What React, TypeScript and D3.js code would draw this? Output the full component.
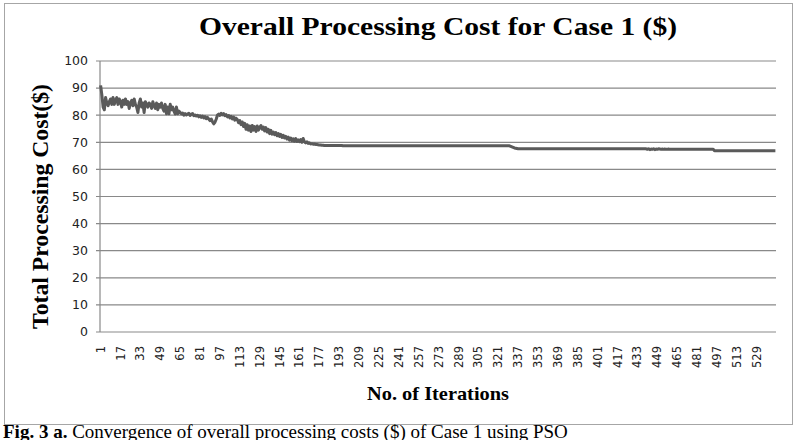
import React from 'react';
import * as d3 from 'd3';

// chart text
const TITLE = 'Overall Processing Cost for Case 1 ($)';
const Y_LABEL = 'Total Processing Cost($)';
const X_LABEL = 'No. of Iterations';
const CAPTION_BOLD = 'Fig. 3 a.';
const CAPTION_TEXT = ' Convergence of overall processing costs ($) of Case 1 using PSO';

// y ticks (cost in $)
const Y_TICKS = [0, 10, 20, 30, 40, 50, 60, 70, 80, 90, 100];

const COST_HEAD = [
  91, 87.5, 83, 82, 86.5, 84.5, 83.5, 85, 86, 84,
  86.5, 84, 85.5, 86.5, 84, 86, 85, 83, 85.5, 84,
  86, 84, 85, 82.5, 84.5, 85.5, 83.5, 86, 84, 83,
  81, 84.5, 86, 83, 84.5, 81, 85, 84, 83, 84.5,
  84, 82.5, 85, 83.5, 82.5, 84.5, 82, 84, 83, 84.5,
  82.5, 81.5, 84, 80.5, 83, 80.5, 84, 82, 83, 81.5,
  80.5, 83, 80.5, 81.5, 81, 80.5, 80.8, 80, 80.6, 80.1,
  80.4, 80.7, 79.9, 80.4, 80.6, 79.8, 80.1, 79.7, 80, 79.4,
  79.8, 79.2, 79.7, 79, 79.5, 78.7, 79.2, 78.6, 78, 78.6,
  77.6, 76.8, 77.4, 78.5, 80, 80.4, 79.9, 80.7, 80.1, 80.6,
  79.8, 80.2, 79.4, 79.9, 79, 79.6, 78.6, 79.3, 78.2, 78.9,
  78.4, 77.2, 78, 76.5, 77.5, 75.8, 77, 74.8, 76.5, 74.5,
  76, 74, 76.2, 74.5, 75.8, 74, 76, 74.5, 75.5, 76.2,
  74.8, 75.6, 74.2, 75.4, 73.8, 74.8, 73.2, 74.4, 73, 73.8,
  72.8, 73.6, 72.4, 73.2, 72.2, 72.9, 71.8, 72.6, 71.6, 72.2,
  71.2, 71.9, 70.8, 71.6, 70.6, 71.3, 70.4, 71.4, 70.3, 70.9,
  70.2, 71, 70, 71.4, 70.2, 69.8, 70.2, 69.6, 69.8, 69.4,
  69.5, 69.3, 69.4, 69.2, 69.2, 69.1, 69, 69, 68.9, 68.9,
];

// step down around iteration 331
const COST_STEP = [68.5, 68.3, 68.1, 67.9, 67.8, 67.7, 67.6, 67.6, 67.6, 67.6];

// small wobble around iteration 441
const COST_WOBBLE = [
  67.4, 67.6, 67.3, 67.5, 67.4, 67.6, 67.3, 67.5, 67.4, 67.6,
  67.5, 67.4, 67.5, 67.4, 67.5, 67.4, 67.4, 67.5, 67.4, 67.4,
];

// flat stretches as [value, how many iterations]
const FLAT_A: [number, number][] = [[68.8, 15], [68.7, 135]];
const FLAT_B: [number, number][] = [[67.6, 100]];
const FLAT_C: [number, number][] = [[67.4, 34], [66.9, 50]];

const runs = (r: [number, number][]) => r.flatMap(([v, n]) => Array(n).fill(v));

const COST = [
  ...COST_HEAD,
  ...runs(FLAT_A),
  ...COST_STEP,
  ...runs(FLAT_B),
  ...COST_WOBBLE,
  ...runs(FLAT_C),
];

const ITERATIONS = COST.map((_, i) => i + 1);
// excel shows every 16th category label
const X_TICKS = ITERATIONS.filter(i => (i - 1) % 16 === 0);

const W = 795, H = 440;
const plot = { left: 100, right: 776, top: 61, bottom: 332 };

const serif = "'Liberation Serif', 'Times New Roman', serif";
const sans = "'DejaVu Sans', Verdana, sans-serif";

export default function App() {
  const x = d3.scaleBand<number>().domain(ITERATIONS).range([plot.left, plot.right]).padding(0);
  const y = d3.scaleLinear().domain([0, 100]).range([plot.bottom, plot.top]);
  const cx = (i: number) => (x(i) as number) + x.bandwidth() / 2;

  const line = d3.line<number>()
    .x((_, i) => cx(ITERATIONS[i]))
    .y(d => y(d));

  return (
    <div style={{ position: 'absolute', left: 0, top: 0 }}>
      <svg width={W} height={H} style={{ display: 'block', background: '#fff' }}>
        {/* outer chart border */}
        <rect x={4.5} y={3.5} width={788} height={421} fill="none" stroke="#a6a6a6" strokeWidth={1} />

        {/* source title is a wide bold serif, stretch it to the same span */}
        <text x={(plot.left + plot.right) / 2} y={35} textAnchor="middle" fontFamily={serif} fontWeight="bold" fontSize={25}
          textLength={478} lengthAdjust="spacingAndGlyphs" fill="#000">{TITLE}</text>

        {/* gridlines + y labels */}
        {Y_TICKS.map(t => (
          <g key={t}>
            <line x1={plot.left - 4} x2={plot.right} y1={y(t)} y2={y(t)} stroke="#898989" strokeWidth={1.2} />
            <text x={88} y={y(t)} dy="0.35em" textAnchor="end" fontFamily={sans} fontSize={12.5} fill="#222">{t}</text>
          </g>
        ))}
        <line x1={plot.left} x2={plot.left} y1={plot.top} y2={plot.bottom} stroke="#898989" strokeWidth={1.2} />

        {/* x labels, rotated */}
        {X_TICKS.map(t => (
          <text key={t} transform={`translate(${cx(t)},346) rotate(-90)`} dy="0.35em" textAnchor="end" fontFamily={sans} fontSize={11.5} fill="#222">{t}</text>
        ))}

        <path d={line(COST) ?? ''} fill="none" stroke="#5a5a5a" strokeWidth={3} strokeLinejoin="round" />

        <text transform={`translate(48, ${(plot.top + plot.bottom) / 2 + 10}) rotate(-90)`} textAnchor="middle" fontFamily={serif} fontWeight="bold" fontSize={24}
          textLength={245} lengthAdjust="spacingAndGlyphs" fill="#000">{Y_LABEL}</text>
        <text x={(plot.left + plot.right) / 2} y={400} textAnchor="middle" fontFamily={serif} fontWeight="bold" fontSize={19}
          textLength={142} lengthAdjust="spacingAndGlyphs" fill="#000">{X_LABEL}</text>

        <text x={3} y={438} fontFamily={serif} fontSize={19} fill="#000">
          <tspan fontWeight="bold">{CAPTION_BOLD}</tspan>{CAPTION_TEXT}
        </text>
      </svg>
    </div>
  );
}
